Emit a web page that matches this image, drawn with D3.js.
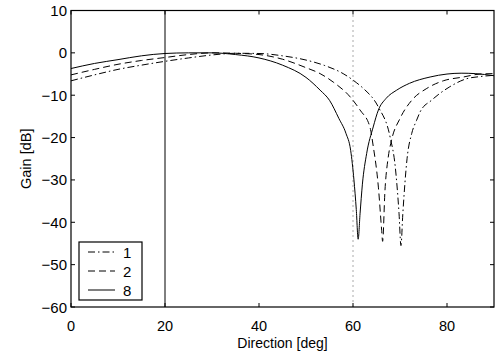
<!DOCTYPE html>
<html><head><meta charset="utf-8">
<script src="https://cdn.jsdelivr.net/npm/d3@7"></script>
<style>body{margin:0;background:#fff}svg{display:block}text{font-family:"Liberation Sans",Arial,sans-serif;fill:#000}</style>
</head><body>
<svg id="c" width="504" height="356"></svg>
<script>
const xTicks = [0, 20, 40, 60, 80];
const yTicks = [10, 0, -10, -20, -30, -40, -50, -60];
const seriesNames = ["1", "2", "8"];
// dash-dot series "1"
const s1x = [0, 5, 10, 15, 20, 25, 30, 35, 40, 45, 50, 54, 57.9, 60.8, 62.2, 65.4, 67.9, 69, 69.8, 70.2, 70.6, 71.5, 72.5, 73.5, 74.3, 76.7, 80.6, 84.2, 87, 90];
const s1y = [-6.6, -5.2, -3.9, -2.9, -2.0, -1.2, -0.5, -0.1, -0.15, -0.7, -1.7, -3.0, -4.9, -7.1, -8.4, -12.8, -19.9, -27, -38, -45.5, -38, -25, -19, -16, -13.9, -11.2, -8.0, -6.1, -5.6, -5.3];
// dashed series "2"
const s2x = [0, 5, 10, 15, 20, 25, 30, 35, 40, 45, 50, 53, 55.8, 59.4, 61.5, 63.6, 64.3, 65.4, 66.1, 66.3, 66.8, 67.5, 68.2, 70, 72.5, 75.7, 79.2, 83.5, 87, 90];
const s2y = [-5.2, -3.9, -2.7, -1.8, -1.1, -0.4, 0.0, -0.1, -0.4, -1.5, -3.5, -4.9, -6.9, -10.4, -13.5, -17.5, -22, -31.7, -41.9, -44.5, -32.5, -24.6, -20.6, -15.5, -11.2, -8.4, -6.6, -5.7, -5.0, -4.9];
// solid series "8"
const s8x = [0, 5, 10, 15, 20, 25, 30, 35, 40, 45, 50, 53, 55, 57, 58.5, 59.5, 60.2, 60.7, 61.1, 61.5, 62, 62.9, 64.3, 65.4, 67, 69.3, 72, 76.4, 80, 83, 86, 90];
const s8y = [-3.7, -2.5, -1.6, -0.7, -0.15, 0.0, 0.0, -0.4, -1.2, -2.9, -5.8, -8.8, -11.2, -15.5, -19, -23, -30, -37, -44, -38, -31, -23.8, -17.5, -13.5, -10.8, -8.8, -7.2, -5.7, -5.0, -4.8, -4.9, -5.4];
const lookDir = 20, nullDir = 60;

const L = 71, R = 494, T = 10.5, B = 307;
const svg = d3.select("#c");
const x = d3.scaleLinear().domain([0, 90]).range([L, R]);
const y = d3.scaleLinear().domain([-60, 10]).range([B, T]);

const tick = 4;
const g = svg.append("g");
xTicks.forEach(v => {
  g.append("line").attr("x1", x(v)).attr("x2", x(v)).attr("y1", B).attr("y2", B - tick).attr("stroke", "#000");
  g.append("line").attr("x1", x(v)).attr("x2", x(v)).attr("y1", T).attr("y2", T + tick).attr("stroke", "#000");
  g.append("text").attr("x", x(v)).attr("y", B + 24).attr("text-anchor", "middle").attr("font-size", 14.5).text(v);
});
yTicks.forEach(v => {
  g.append("line").attr("x1", L).attr("x2", L + tick).attr("y1", y(v)).attr("y2", y(v)).attr("stroke", "#000");
  g.append("line").attr("x1", R).attr("x2", R - tick).attr("y1", y(v)).attr("y2", y(v)).attr("stroke", "#000");
  g.append("text").attr("x", L - 4).attr("y", y(v) + 5.5).attr("text-anchor", "end").attr("font-size", 15)
    .text(v < 0 ? "\u2212" + Math.abs(v) : String(v));
});

svg.append("line").attr("x1", x(lookDir)).attr("x2", x(lookDir)).attr("y1", T).attr("y2", B).attr("stroke", "#000").attr("stroke-width", 1);
svg.append("line").attr("x1", x(nullDir)).attr("x2", x(nullDir)).attr("y1", T).attr("y2", B).attr("stroke", "#555").attr("stroke-width", 1).attr("stroke-dasharray", "1,4");

const line = d3.line().x(d => x(d[0])).y(d => y(d[1])).curve(d3.curveMonotoneX);
const dashes = ["7,3,1.5,3", "7,4", null];
const data = [d3.zip(s1x, s1y), d3.zip(s2x, s2y), d3.zip(s8x, s8y)];
data.forEach((d, i) => {
  const p = svg.append("path").datum(d).attr("d", line).attr("fill", "none").attr("stroke", "#000").attr("stroke-width", 1);
  if (dashes[i]) p.attr("stroke-dasharray", dashes[i]);
});

svg.append("rect").attr("x", L).attr("y", T).attr("width", R - L).attr("height", B - T).attr("fill", "none").attr("stroke", "#000").attr("stroke-width", 1.2);

const lg = svg.append("g");
lg.append("rect").attr("x", 79).attr("y", 242).attr("width", 63).attr("height", 58).attr("fill", "#fff").attr("stroke", "#000").attr("stroke-width", 1.2);
seriesNames.forEach((n, i) => {
  const yy = 252 + i * 19;
  const l = lg.append("line").attr("x1", 88).attr("x2", 115).attr("y1", yy).attr("y2", yy).attr("stroke", "#000");
  if (dashes[i]) l.attr("stroke-dasharray", dashes[i]);
  lg.append("text").attr("x", 123).attr("y", yy + 5.5).attr("font-size", 15).text(n);
});

svg.append("text").attr("x", (L + R) / 2).attr("y", 348).attr("text-anchor", "middle").attr("font-size", 14).text("Direction [deg]");
svg.append("text").attr("transform", `translate(31,${(T + B) / 2}) rotate(-90)`).attr("text-anchor", "middle").attr("font-size", 14.5).text("Gain [dB]");
</script>
</body></html>
